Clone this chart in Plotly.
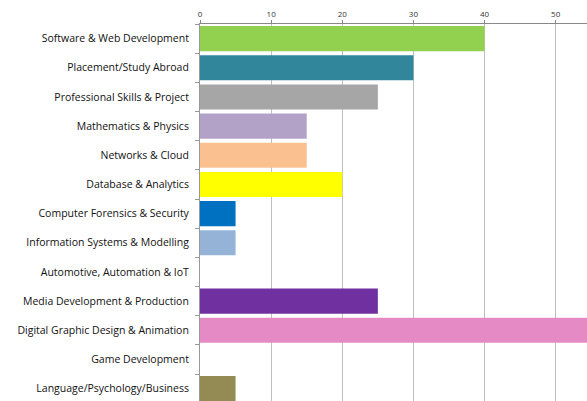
import plotly.graph_objects as go

categories = [
    "Software & Web Development",
    "Placement/Study Abroad",
    "Professional Skills & Project",
    "Mathematics & Physics",
    "Networks & Cloud",
    "Database & Analytics",
    "Computer Forensics & Security",
    "Information Systems & Modelling",
    "Automotive, Automation & IoT",
    "Media Development & Production",
    "Digital Graphic Design & Animation",
    "Game Development",
    "Language/Psychology/Business",
]
values = [40, 30, 25, 15, 15, 20, 5, 5, 0, 25, 60, 0, 5]
colors = [
    "#92D050", "#31869B", "#A6A6A6", "#B3A2C7", "#FAC090", "#FFFF00",
    "#0070C0", "#95B3D7", "#FFFFFF", "#7030A0", "#E68AC6", "#FFFFFF", "#948A54",
]
x_ticks = [0, 10, 20, 30, 40, 50]

fig = go.Figure(go.Bar(
    y=categories, x=values, orientation="h",
    marker=dict(color=colors, line=dict(width=0)),
    width=0.86,
))

fig.update_layout(
    width=587, height=401,
    margin=dict(l=200, r=0, t=24, b=0, autoexpand=False),
    paper_bgcolor="white", plot_bgcolor="white",
    showlegend=False,
    font=dict(family="Open Sans, Liberation Sans, sans-serif", color="#222222"),
    xaxis=dict(
        side="top", range=[0, 54.4], tickvals=x_ticks, automargin=False,
        showgrid=True, gridcolor="#BFBFBF", gridwidth=1,
        showline=True, linecolor="#888888", linewidth=1,
        ticks="outside", ticklen=3, tickcolor="#888888",
        tickfont=dict(size=8, color="#333333"), zeroline=False,
    ),
    yaxis=dict(
        categoryorder="array", categoryarray=categories,
        range=[12.425, -0.5], automargin=False,
        showline=True, linecolor="#999999", linewidth=1,
        ticks="outside", ticklen=4, tickcolor="#999999",
        tickson="boundaries",
        tickfont=dict(size=10.5, color="#111111"),
        ticklabelstandoff=8,
        showgrid=False,
    ),
)

fig.write_html(
    "out.html",
    config={"displayModeBar": False},
    post_script="document.body.style.margin='0';document.body.style.overflow='hidden';",
)
